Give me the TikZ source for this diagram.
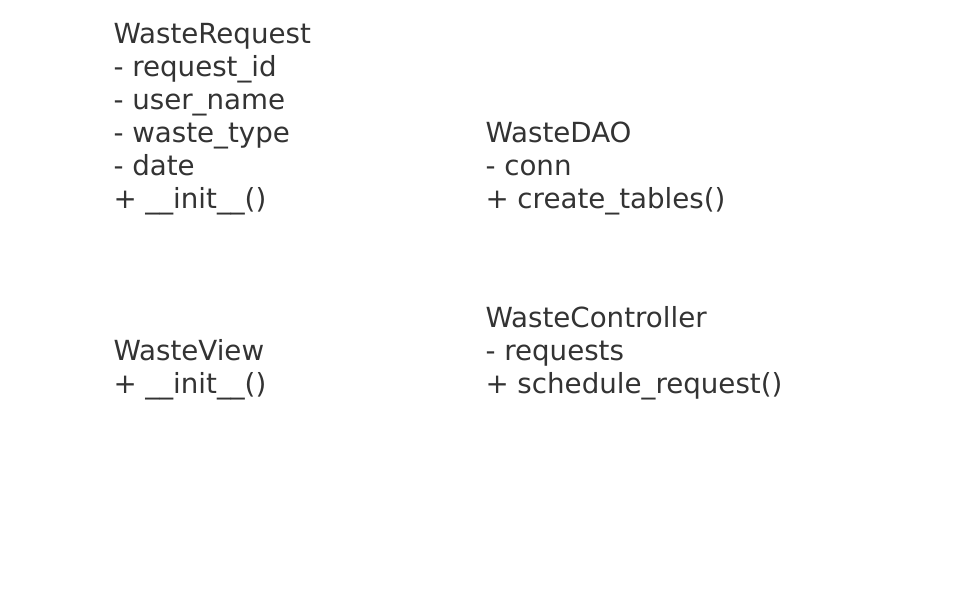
\documentclass[tikz,border=0pt]{standalone}
\usepackage{fontspec}
\setmainfont{DejaVu Sans}
\usepackage{tikz}
\usetikzlibrary{positioning}
\definecolor{classgray}{HTML}{333333}
\tikzset{
	classtext/.style={anchor=base west,align=left,inner sep=0pt,text=classgray,
		font=\fontsize{27.7pt}{33pt}\selectfont}
}
\begin{document}
\begin{tikzpicture}[x=1pt,y=-1pt]
			\def \lcol {113.3}
			\def \rcol {485.3}
			
			%page
			\useasboundingbox (0,0) rectangle (969,596);
			
			%classes (anchored on the baseline of their last line)
			\node[classtext] (request) at (\lcol,208.3) {WasteRequest\\- request\_id\\- user\_name\\- waste\_type\\- date\\+ \_\_init\_\_()};
			\node[classtext] (dao) at (\rcol,208.3) {WasteDAO\\- conn\\+ create\_tables()};
			\node[classtext] (view) at (\lcol,393.3) {WasteView\\+ \_\_init\_\_()};
			\node[classtext] (controller) at (\rcol,393.3) {WasteController\\- requests\\+ schedule\_request()};
\end{tikzpicture}
\end{document}
